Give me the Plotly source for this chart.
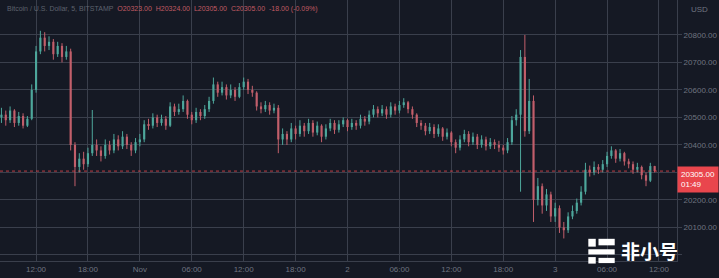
import pandas as pd
import plotly.graph_objects as go

# ---------------- data (30-min candles, BTC/USD) ----------------
start_open = 20500
closes = [20510, 20490, 20525, 20480, 20505, 20470, 20495, 20600, 20740, 20790,
          20760, 20775, 20730, 20760, 20720, 20740, 20400, 20320, 20350, 20330,
          20370, 20400, 20380, 20360, 20400, 20380, 20420, 20395, 20430, 20400,
          20380, 20410, 20420, 20475, 20470, 20500, 20480, 20495, 20470, 20540,
          20520, 20530, 20560, 20510, 20490, 20520, 20505, 20530, 20560, 20620,
          20590, 20610, 20580, 20600, 20575, 20610, 20630, 20600, 20590, 20540,
          20530, 20545, 20525, 20535, 20420, 20440, 20420, 20460, 20440, 20470,
          20450, 20480, 20445, 20470, 20430, 20460, 20480, 20455, 20475, 20490,
          20465, 20480, 20470, 20495, 20485, 20510, 20530, 20515, 20530, 20510,
          20540, 20525, 20545, 20555, 20530, 20510, 20480, 20470, 20450, 20465,
          20440, 20460, 20430, 20445, 20410, 20390, 20420, 20440, 20410, 20430,
          20400, 20420, 20395, 20410, 20400, 20390, 20380, 20410, 20490, 20510,
          20720, 20450, 20560, 20200, 20250, 20180, 20220, 20140, 20170, 20100,
          20090, 20140, 20160, 20190, 20230, 20310, 20300, 20320, 20310, 20330,
          20360, 20380, 20350, 20370, 20340, 20330, 20310, 20320, 20290, 20270,
          20323, 20305]
highs = [20535, 20525, 20540, 20530, 20520, 20515, 20505, 20620, 20760, 20815,
         20810, 20795, 20785, 20775, 20770, 20760, 20750, 20410, 20370, 20375,
         20390, 20527, 20420, 20395, 20420, 20415, 20440, 20435, 20450, 20440,
         20410, 20425, 20440, 20490, 20495, 20515, 20510, 20510, 20505, 20555,
         20550, 20550, 20580, 20565, 20520, 20535, 20530, 20545, 20575, 20645,
         20630, 20630, 20620, 20620, 20610, 20625, 20645, 20640, 20615, 20595,
         20555, 20560, 20555, 20550, 20545, 20460, 20450, 20480, 20470, 20490,
         20480, 20495, 20490, 20485, 20475, 20475, 20495, 20490, 20490, 20500,
         20495, 20495, 20490, 20510, 20505, 20525, 20545, 20540, 20545, 20540,
         20555, 20550, 20560, 20570, 20560, 20540, 20515, 20490, 20480, 20480,
         20475, 20475, 20465, 20460, 20450, 20420, 20435, 20455, 20450, 20445,
         20440, 20435, 20430, 20425, 20420, 20415, 20400, 20425, 20505, 20530,
         20745, 20800, 20640, 20580, 20280, 20260, 20240, 20230, 20190, 20180,
         20120, 20155, 20180, 20205, 20250, 20335, 20325, 20340, 20330, 20345,
         20375, 20395, 20385, 20385, 20375, 20350, 20340, 20335, 20325, 20300,
         20335, 20324]
lows = [20480, 20470, 20480, 20465, 20470, 20460, 20465, 20490, 20590, 20730,
        20740, 20745, 20710, 20720, 20700, 20710, 20380, 20250, 20300, 20310,
        20320, 20360, 20360, 20340, 20350, 20365, 20370, 20380, 20385, 20385,
        20360, 20370, 20395, 20410, 20455, 20460, 20465, 20470, 20455, 20465,
        20505, 20510, 20520, 20495, 20475, 20480, 20490, 20495, 20520, 20550,
        20575, 20580, 20565, 20570, 20560, 20570, 20600, 20585, 20575, 20525,
        20515, 20520, 20510, 20515, 20370, 20400, 20400, 20410, 20420, 20430,
        20430, 20440, 20430, 20435, 20410, 20420, 20450, 20440, 20445, 20465,
        20450, 20455, 20455, 20460, 20470, 20475, 20500, 20500, 20505, 20495,
        20500, 20510, 20515, 20535, 20515, 20495, 20465, 20455, 20435, 20440,
        20425, 20430, 20415, 20420, 20395, 20370, 20380, 20410, 20395, 20400,
        20385, 20390, 20380, 20385, 20385, 20375, 20365, 20370, 20400, 20470,
        20230, 20430, 20440, 20120, 20180, 20150, 20160, 20120, 20120, 20080,
        20060, 20080, 20130, 20150, 20180, 20220, 20285, 20290, 20295, 20300,
        20320, 20350, 20335, 20340, 20325, 20315, 20295, 20300, 20275, 20250,
        20265, 20300]
opens = [start_open] + closes[:-1]
times = pd.date_range("2022-10-31 08:00", periods=len(closes), freq="30min")

last_price = 20305
price_ticks = [20000, 20100, 20200, 20300, 20400, 20500, 20600, 20700, 20800]
price_labels = ["", "20100.00", "20200.00", "", "20400.00",
                "20500.00", "20600.00", "20700.00", "20800.00"]
time_ticks = pd.date_range("2022-10-31 12:00", "2022-11-03 12:00", freq="6h")
time_labels = ["12:00", "18:00", "Nov", "06:00", "12:00", "18:00", "2",
               "06:00", "12:00", "18:00", "3", "06:00", "12:00"]

# ---------------- styling ----------------
BG = "#151924"
GRID = "#3a3f4c"
TXT = "#6f7480"
UP = "#4ea79c"
DOWN = "#c25f6b"
RED = "#e9464d"
FONT = "Liberation Sans"
BODY_MS = 0.5 * 30 * 60 * 1000

fig = go.Figure()
for is_up, col in [(True, UP), (False, DOWN)]:
    idx = [i for i in range(len(closes)) if (closes[i] >= opens[i]) == is_up]
    wx, wy = [], []
    for i in idx:
        wx += [times[i], times[i], None]
        wy += [lows[i], highs[i], None]
    fig.add_trace(go.Scatter(x=wx, y=wy, mode="lines", line=dict(color=col, width=1),
                             showlegend=False, hoverinfo="skip"))
    fig.add_trace(go.Bar(
        x=[times[i] for i in idx],
        base=[min(opens[i], closes[i]) for i in idx],
        y=[max(abs(closes[i] - opens[i]), 3) for i in idx],
        width=BODY_MS, marker=dict(color=col, line=dict(width=0)),
        showlegend=False, hoverinfo="skip"))

fig.add_hline(y=last_price, line=dict(color=RED, width=1, dash="dot"), opacity=0.8)

fig.update_layout(
    width=719, height=278,
    margin=dict(l=0, r=42, t=0, b=17),
    paper_bgcolor=BG, plot_bgcolor=BG, barmode="overlay",
    font=dict(family=FONT, color=TXT, size=8),
    xaxis=dict(
        range=["2022-10-31 07:50", "2022-11-03 14:05"],
        tickvals=time_ticks, ticktext=time_labels,
        showgrid=True, gridcolor=GRID, gridwidth=1,
        showline=True, linecolor=GRID, linewidth=1,
        tickfont=dict(size=8, color=TXT), ticks="", zeroline=False,
    ),
    yaxis=dict(
        side="right", range=[19978, 20927],
        tickvals=price_ticks, ticktext=price_labels,
        showgrid=True, gridcolor=GRID, gridwidth=1,
        showline=True, linecolor=GRID, linewidth=1,
        ticks="outside", ticklen=4, tickcolor=GRID,
        tickfont=dict(size=8, color=TXT), zeroline=False,
    ),
)

# header legend
fig.add_annotation(
    xref="paper", yref="paper", x=0.008, y=1.0, xanchor="left", yanchor="top",
    yshift=-3, showarrow=False, align="left",
    text=("<span style='color:#5d626d'>Bitcoin / U.S. Dollar, 5, BITSTAMP</span>  "
          "<span style='color:#c05a63'>O20323.00  H20324.00  L20305.00  C20305.00  -18.00 (-0.09%)</span>"),
    font=dict(size=7, family=FONT),
)
# USD label
fig.add_annotation(xref="paper", yref="paper", x=1, y=1, xanchor="left", yanchor="top",
                   xshift=12, yshift=-3, showarrow=False, text="USD",
                   font=dict(size=8, color=TXT, family=FONT))
# last price label
fig.add_annotation(xref="paper", yref="y", x=1, y=last_price, xanchor="left", yanchor="top",
                   yshift=5, showarrow=False, align="left",
                   text=f"{last_price:.2f}<br>01:49", bgcolor=RED, borderpad=3,
                   font=dict(size=8, color="#ffffff", family=FONT))

# watermark logo
for (x0, y0, x1, y1) in [(0.869, 0.085, 0.880, 0.055), (0.884, 0.085, 0.908, 0.060),
                         (0.869, 0.045, 0.908, 0.025), (0.869, 0.015, 0.880, -0.010),
                         (0.884, 0.012, 0.908, -0.008)]:
    fig.add_shape(type="rect", xref="paper", yref="paper", x0=x0, y0=y0, x1=x1, y1=y1,
                  fillcolor="#ffffff", line=dict(width=0), layer="above")
fig.add_annotation(xref="paper", yref="paper", x=0.915, y=0.04, xanchor="left",
                   yanchor="middle", showarrow=False, text="<b>非小号</b>",
                   font=dict(size=19, color="#ffffff", family="Noto Sans CJK SC"))

fig.write_html("out.html")
